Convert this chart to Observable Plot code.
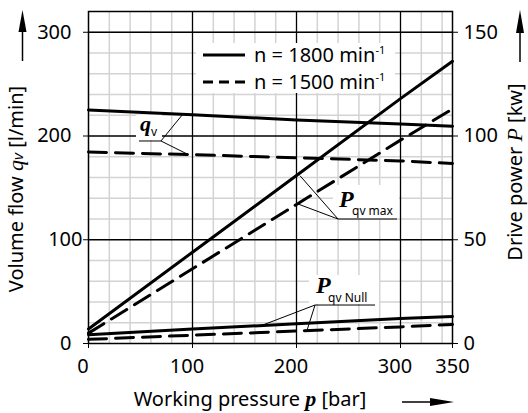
<!DOCTYPE html>
<html><head><meta charset="utf-8">
<script src="https://cdn.jsdelivr.net/npm/d3@7"></script>
<script src="https://cdn.jsdelivr.net/npm/@observablehq/plot@0.6"></script>
<style>body{margin:0;background:#fff;} svg{display:block}</style>
</head><body><div id="chart"></div>
<script>
// ---- data ----
const pressure   = [0, 100, 200, 300, 350];          // bar
const qv1800     = [225, 220.5, 215.5, 211.5, 209.5]; // l/min
const qv1500     = [184.5, 182, 179, 176, 173.5];     // l/min
const pMax1800   = [7, 44, 81, 118, 136];             // kW
const pMax1500   = [5, 36, 67, 98, 113];              // kW
const pNull1800  = [4.2, 7, 9.5, 12, 13];             // kW
const pNull1500  = [2, 4, 6, 8, 9.2];                 // kW
const xTicks     = [0, 100, 200, 300, 350];
const yFlowTicks = [0, 100, 200, 300];
const yPowerTicks= [0, 50, 100, 150];
const xMajor = [100, 200, 300];
const yMajor = [100, 200, 300];
const xMinor = [20,40,60,80,120,140,160,180,220,240,260,280,320,340];
const yMinor = [20,40,60,80,120,140,160,180,220,240,260,280,300];
const kWtoFlow = 2; // 150 kW on the right axis aligns with 300 l/min

const series = [
  {key:"qv1800",  vals:qv1800,   power:false, dashed:false},
  {key:"qv1500",  vals:qv1500,   power:false, dashed:true},
  {key:"pm1800",  vals:pMax1800, power:true,  dashed:false},
  {key:"pm1500",  vals:pMax1500, power:true,  dashed:true},
  {key:"pn1800",  vals:pNull1800,power:true,  dashed:false},
  {key:"pn1500",  vals:pNull1500,power:true,  dashed:true},
];
const rows = series.flatMap(s => s.vals.map((v,i) => ({key:s.key, dashed:s.dashed, p:pressure[i], y: s.power ? v*kWtoFlow : v})));

const plot = Plot.plot({
  width: 528, height: 413,
  marginLeft: 88, marginRight: 76, marginTop: 11, marginBottom: 70,
  style: {fontFamily: "'Noto Sans', sans-serif", fontSize: "20px", color: "#000", background: "#fff"},
  x: {domain: [0, 350]},
  y: {domain: [0, 320]},
  marks: [
    Plot.ruleX(xMinor, {stroke: "#d3d3d3", strokeWidth: 1.5}),
    Plot.ruleY(yMinor, {stroke: "#d3d3d3", strokeWidth: 1.5}),
    Plot.ruleX(xMajor, {stroke: "#000", strokeWidth: 1.3}),
    Plot.ruleY(yMajor, {stroke: "#000", strokeWidth: 1.3}),
    Plot.line(rows.filter(d => !d.dashed), {x: "p", y: "y", z: "key", stroke: "#000", strokeWidth: 3}),
    Plot.line(rows.filter(d => d.dashed), {x: "p", y: "y", z: "key", stroke: "#000", strokeWidth: 3, strokeDasharray: "18,9"}),
    Plot.frame({stroke: "#000", strokeWidth: 1.5}),
    // bottom tick marks
    Plot.axisX({ticks: xTicks, tickSize: 5, label: null, tickFormat: () => ""}),
    // bottom tick labels (0–300 sit slightly left of their ticks in the reference)
    Plot.axisX({ticks: xTicks.filter(d => d < 350), tickSize: 0, tickPadding: 15, dx: -5.5, label: null, tickFormat: d => String(d)}),
    Plot.axisX({ticks: xTicks.filter(d => d === 350), tickSize: 0, tickPadding: 15, label: null, tickFormat: d => String(d)}),
    Plot.axisY({ticks: yFlowTicks.filter(d => d !== 100), anchor: "left", tickSize: 5, tickPadding: 12, label: null, tickFormat: d => String(d)}),
    Plot.axisY({ticks: yFlowTicks.filter(d => d === 100), anchor: "left", tickSize: 5, tickPadding: 1, label: null, tickFormat: d => String(d)}),
    Plot.axisY({ticks: yPowerTicks.map(d => d*kWtoFlow), anchor: "right", tickSize: 5, tickPadding: 6, label: null, tickFormat: d => String(d/kWtoFlow)})
  ]
});
document.getElementById("chart").appendChild(plot);

const svg = d3.select(plot);
const X = v => plot.scale("x").apply(v), Y = v => plot.scale("y").apply(v);
const serif = "'Liberation Serif', 'DejaVu Serif', serif";
const sans = "'Noto Sans', sans-serif";

// ---- annotations ----
const g = svg.append("g").attr("text-anchor", "start");
function label(anchor, endsA, endsB, main, sub, box, mainSize, subDx, subDy, underlineLen) {
  const ax = X(anchor[0]), ay = Y(anchor[1]);
  g.append("rect").attr("x", ax + box[0]).attr("y", ay + box[1]).attr("width", box[2]).attr("height", box[3]).style("fill", "#fff").style("stroke", "none");
  g.append("line").attr("x1", ax).attr("y1", ay).attr("x2", ax + underlineLen).attr("y2", ay).attr("stroke", "#000").attr("stroke-width", 1);
  for (const e of [endsA, endsB]) {
    const from = e.from === "end" ? ax + underlineLen : ax;
    g.append("line").attr("x1", from).attr("y1", ay).attr("x2", X(e.x)).attr("y2", Y(e.y)).attr("stroke", "#000").attr("stroke-width", 1);
  }
  g.append("text").attr("x", ax + 1).attr("y", ay - box.mainDy)
    .attr("font-family", serif).attr("font-style", "italic").attr("font-weight", "bold").attr("font-size", mainSize).text(main);
  g.append("text").attr("x", ax + subDx).attr("y", ay + subDy).attr("font-family", sans).attr("font-size", 12).text(sub);
}
// q_v
(function(){
  const box = [-3, -26, 26, 25]; box.mainDy = 10;
  label([49, 194.7], {x: 91.3, y: 220.7, from: "end"}, {x: 95.2, y: 182.2, from: "end"}, "q", "v", box, 22, 12, -5, 22);
})();
// P_qv max
(function(){
  const box = [-5, -34, 66, 33]; box.mainDy = 12;
  label([240.4, 119.5], {x: 203.8, y: 161.3, from: "start"}, {x: 201.9, y: 134, from: "start"}, "P", "qv max", box, 24, 14, -4, 59);
})();
// P_qv Null
(function(){
  const box = [-6, -30, 70, 29]; box.mainDy = 12;
  label([218.3, 36.6], {x: 168.3, y: 17.4, from: "start"}, {x: 210.6, y: 12.2, from: "start"}, "P", "qv Null", box, 24, 13, -3, 60);
})();

// ---- legend ----
const lg = svg.append("g").attr("text-anchor", "start");
lg.append("rect").attr("x", 196).attr("y", 43).attr("width", 199).attr("height", 50).style("fill", "#fff").style("stroke", "none");
lg.append("line").attr("x1", 203).attr("x2", 245).attr("y1", 55).attr("y2", 55).attr("stroke", "#000").attr("stroke-width", 3);
lg.append("line").attr("x1", 203).attr("x2", 245).attr("y1", 82).attr("y2", 82).attr("stroke", "#000").attr("stroke-width", 3).attr("stroke-dasharray", "10,6");
[["n = 1800 min", 62], ["n = 1500 min", 89]].forEach(([s, yy]) => {
  const t = lg.append("text").attr("x", 254).attr("y", yy).attr("font-family", sans).attr("font-size", 20);
  t.append("tspan").text(s);
  t.append("tspan").attr("font-size", 11).attr("dy", -8).text("-1");
});

// ---- axis titles ----
const lt = svg.append("text").attr("transform", "translate(23,189) rotate(-90)").attr("text-anchor", "middle").attr("font-family", sans).attr("font-size", 20);
lt.append("tspan").text("Volume flow ");
lt.append("tspan").attr("font-family", serif).attr("font-style", "italic").attr("font-size", 22).text("q");
lt.append("tspan").attr("font-style", "italic").attr("font-size", 15).text("v");
lt.append("tspan").text(" [l/min]");

const rt = svg.append("text").attr("transform", "translate(522,172) rotate(-90)").attr("text-anchor", "middle").attr("font-family", sans).attr("font-size", 20);
rt.append("tspan").text("Drive power ");
rt.append("tspan").attr("font-family", serif).attr("font-style", "italic").attr("font-size", 22).text("P");
rt.append("tspan").text(" [kw]");

const bt = svg.append("text").attr("x", 250).attr("y", 406).attr("text-anchor", "middle").attr("font-family", sans).attr("font-size", 20);
bt.append("tspan").text("Working pressure ");
bt.append("tspan").attr("font-family", serif).attr("font-style", "italic").attr("font-weight", "bold").attr("font-size", 22).text("p");
bt.append("tspan").text(" [bar]");

// ---- arrows ----
const ar = svg.append("g").attr("fill", "#000").attr("stroke", "#000");
ar.append("line").attr("x1", 22.5).attr("x2", 22.5).attr("y1", 61).attr("y2", 25).attr("stroke-width", 1.5);
ar.append("path").attr("d", "M22.5,10 L18.5,32 L26.5,32 Z").attr("stroke", "none");
ar.append("line").attr("x1", 520).attr("x2", 520).attr("y1", 62).attr("y2", 25).attr("stroke-width", 1.5);
ar.append("path").attr("d", "M520,10 L516,33 L524,33 Z").attr("stroke", "none");
ar.append("line").attr("x1", 402).attr("x2", 440).attr("y1", 402).attr("y2", 402).attr("stroke-width", 1.5);
ar.append("path").attr("d", "M454,402 L430,398 L430,406 Z").attr("stroke", "none");
</script></body></html>
